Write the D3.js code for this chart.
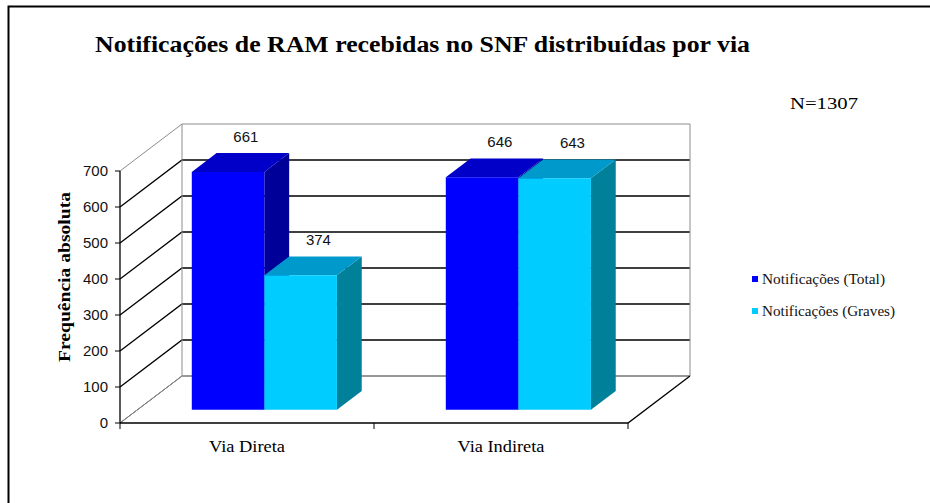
<!DOCTYPE html>
<html>
<head>
<meta charset="utf-8">
<script src="https://cdn.jsdelivr.net/npm/d3@7"></script>
<style>
  body { margin: 0; background: #fff; }
  svg { display: block; }
</style>
</head>
<body>
<svg id="chart" width="930" height="503"></svg>
<script>
// data
const categories = ['Via Direta', 'Via Indireta'];
const seriesNames = ['Notificações (Total)', 'Notificações (Graves)'];
const totalValues = [661, 646];
const gravesValues = [374, 643];
const yTicks = [0, 100, 200, 300, 400, 500, 600, 700];

const svg = d3.select('#chart');

// 3d layout: front plane + a depth vector to the back wall
const depth = { dx: 62, dy: -47 };
const barDepth = [0.28, 0.68];
const colors = [
  { front: '#0000ff', top: '#0000c8', side: '#000099' },
  { front: '#00ccff', top: '#0099cc', side: '#008099' }
];

const x = d3.scaleBand().domain(categories).range([120, 628]).padding(0);
const xInner = d3.scaleBand().domain(d3.range(seriesNames.length))
  .range([0, x.bandwidth()]).paddingInner(0).paddingOuter(0.75);
const y = d3.scaleLinear().domain([0, 700]).range([423, 171]);

const P = (px, v, d) => [px + d * depth.dx, y(v) + d * depth.dy];
const poly = pts => 'M' + pts.map(p => p.join(',')).join('L') + 'Z';

// outer frame
svg.append('path')
  .attr('d', 'M8.5,503V6.5H930')
  .attr('fill', 'none').attr('stroke', '#000').attr('stroke-width', 2);

// title
svg.append('text')
  .attr('x', 95).attr('y', 52)
  .attr('textLength', 655).attr('lengthAdjust', 'spacingAndGlyphs')
  .style('font-family', 'Liberation Serif, serif')
  .style('font-weight', 'bold').style('font-size', '23px')
  .text('Notificações de RAM recebidas no SNF distribuídas por via');

svg.append('text')
  .attr('x', 790).attr('y', 109)
  .attr('textLength', 68).attr('lengthAdjust', 'spacingAndGlyphs')
  .style('font-family', 'Liberation Serif, serif').style('font-size', '17px')
  .text('N=1307');

// walls and gridlines
const grid = svg.append('g');
const x0 = x.range()[0], x1 = x.range()[1];
yTicks.forEach(v => {
  const edge = v === 0 || v === 700;
  const col = edge ? '#8c8c8c' : '#000';
  grid.append('path')
    .attr('d', 'M' + P(x0, v, 0) + 'L' + P(x0, v, 1) + 'L' + P(x1, v, 1))
    .attr('fill', 'none').attr('stroke', v === 0 ? '#333' : col)
    .attr('stroke-width', edge ? 1 : 1.3);
});
// left back edge (gray) and right back edge
grid.append('path').attr('d', 'M' + P(x0, 0, 1) + 'L' + P(x0, 700, 1))
  .attr('stroke', '#8c8c8c').attr('fill', 'none');
grid.append('path').attr('d', 'M' + P(x1, 0, 1) + 'L' + P(x1, 700, 1))
  .attr('stroke', '#8c8c8c').attr('fill', 'none');
// left floor edge gray
grid.append('path').attr('d', 'M' + P(x0, 0, 0) + 'L' + P(x0, 0, 1))
  .attr('stroke', '#8c8c8c').attr('fill', 'none');

// bars
const series = [totalValues, gravesValues];
const bars = svg.append('g');
categories.forEach((c, ci) => {
  series.forEach((vals, si) => {
    const v = vals[ci];
    const xa = x(c) + xInner(si), xb = xa + xInner.bandwidth();
    const [d0, d1] = barDepth;
    const col = colors[si];
    bars.append('path')
      .attr('d', poly([P(xb, 0, d0), P(xb, v, d0), P(xb, v, d1), P(xb, 0, d1)]))
      .attr('fill', col.side);
    bars.append('path')
      .attr('d', poly([P(xa, v, d0), P(xb, v, d0), P(xb, v, d1), P(xa, v, d1)]))
      .attr('fill', col.top);
    bars.append('path')
      .attr('d', poly([P(xa, 0, d0), P(xb, 0, d0), P(xb, v, d0), P(xa, v, d0)]))
      .attr('fill', col.front);
  });
});
// value labels on top
categories.forEach((c, ci) => {
  series.forEach((vals, si) => {
    const v = vals[ci];
    const xc = x(c) + xInner(si) + xInner.bandwidth() / 2;
    const p = P(xc, v, barDepth[1]);
    svg.append('text')
      .attr('x', p[0] - 12 + 5).attr('y', p[1] - 17)
      .attr('text-anchor', 'middle').attr('dominant-baseline', 'central')
      .style('font-family', 'Liberation Sans, Arial, sans-serif')
      .style('font-size', '15px').attr('fill', '#111')
      .text(v);
  });
});

// front floor (x axis) and right floor edge
const axes = svg.append('g').attr('stroke', '#000').attr('fill', 'none');
axes.append('path').attr('d', 'M' + P(x0, 0, 0) + 'L' + P(x1, 0, 0) + 'L' + P(x1, 0, 1))
  .attr('stroke-width', 1.3);
[x0, x0 + x.step(), x1].forEach(px => {
  axes.append('line').attr('x1', px).attr('x2', px)
    .attr('y1', y(0)).attr('y2', y(0) + 6);
});
// y axis
axes.append('line').attr('x1', x0).attr('x2', x0)
  .attr('y1', y(700)).attr('y2', y(0)).attr('stroke-width', 1.3);
yTicks.forEach(v => {
  axes.append('line').attr('x1', x0 - 5).attr('x2', x0)
    .attr('y1', y(v)).attr('y2', y(v));
  svg.append('text')
    .attr('x', 108).attr('y', y(v)).attr('dy', '0.35em')
    .attr('text-anchor', 'end')
    .style('font-family', 'Liberation Sans, Arial, sans-serif')
    .style('font-size', '15px').attr('fill', '#111')
    .text(v);
});

// category labels
categories.forEach((c, i) => {
  svg.append('text')
    .attr('x', x(c) + x.bandwidth() / 2).attr('y', 452)
    .attr('text-anchor', 'middle')
    .attr('textLength', i === 0 ? 76 : 87).attr('lengthAdjust', 'spacingAndGlyphs')
    .style('font-family', 'Liberation Serif, serif').style('font-size', '16px')
    .text(c);
});

// y axis title
svg.append('text')
  .attr('transform', 'translate(70,277) rotate(-90)')
  .attr('text-anchor', 'middle')
  .attr('textLength', 170).attr('lengthAdjust', 'spacingAndGlyphs')
  .style('font-family', 'Liberation Serif, serif')
  .style('font-weight', 'bold').style('font-size', '16px')
  .text('Frequência absoluta');

// legend
const legend = svg.append('g').attr('transform', 'translate(752,279)');
seriesNames.forEach((s, i) => {
  const g = legend.append('g').attr('transform', `translate(0,${i * 32})`);
  g.append('rect').attr('x', 0).attr('y', -3).attr('width', 6).attr('height', 6)
    .attr('fill', colors[i].front);
  g.append('text').attr('x', 10).attr('y', 0).attr('dy', '0.35em')
    .attr('textLength', i === 0 ? 123 : 133).attr('lengthAdjust', 'spacingAndGlyphs')
    .style('font-family', 'Liberation Serif, serif').style('font-size', '14px')
    .attr('fill', '#111')
    .text(s);
});
</script>
</body>
</html>
